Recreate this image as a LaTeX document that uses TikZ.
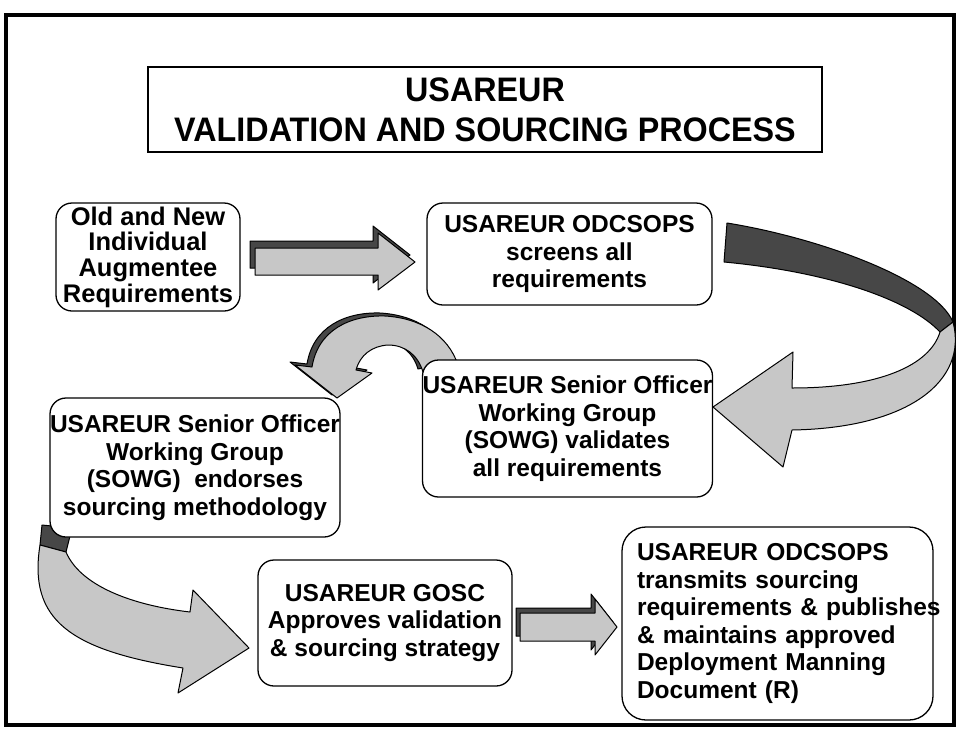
\documentclass[tikz,border=0pt]{standalone}
\usepackage{fontspec}
\setmainfont{Liberation Sans}
\newfontfamily\headingfont[FakeStretch=0.95]{Liberation Sans}
\begin{document}
\begin{tikzpicture}[x=1pt,y=-1pt,
  stage/.style={draw=black, line width=1.3pt, rounded corners=16pt, fill=white,
    align=center, inner sep=0pt, font=\fontsize{24.5}{27.5}\selectfont\bfseries},
  heading/.style={draw=black, line width=1.4pt, fill=white, align=center,
    inner sep=0pt, font=\headingfont\fontsize{34}{40}\selectfont\bfseries},
  ribbon/.style={draw=black, line width=1pt, fill=black!22, line join=round},
  ribbonback/.style={draw=black, line width=1pt, fill=black!72, line join=round}]

\useasboundingbox (0,0) rectangle (960,736);
\fill[white] (0,0) rectangle (960,736);

% outer frame
\draw[line width=4pt] (6,15) rectangle (954,725);

% title
\node[heading, minimum width=674pt, minimum height=85pt] (title) at (485,109.5)
  {USAREUR\\VALIDATION AND SOURCING PROCESS};

% straight arrow: requirements -> screening
\begin{scope}[shift={(-5,-7)}]
  \path[ribbonback] (255,248) -- (378,248) -- (378,233) -- (415,262) -- (378,290) -- (378,275) -- (255,275) -- cycle;
\end{scope}
\path[ribbon] (255,248) -- (378,248) -- (378,233) -- (415,262) -- (378,290) -- (378,275) -- (255,275) -- cycle;

% straight arrow: approval -> publication
\begin{scope}[shift={(-4,-5)}]
  \path[ribbonback] (520,613) -- (595,613) -- (595,599) -- (617,627) -- (595,655) -- (595,641) -- (520,641) -- cycle;
\end{scope}
\path[ribbon] (520,613) -- (595,613) -- (595,599) -- (617,627) -- (595,655) -- (595,641) -- (520,641) -- cycle;

% large ribbon arrow: screening -> validation
\path[ribbonback] (727,223) .. controls (820,238) and (935,280) .. (953,322)
  -- (940,332) .. controls (910,300) and (830,272) .. (724,262) -- cycle;
\path[ribbon] (953,322) .. controls (968,380) and (910,428) .. (792,430)
  -- (783,467) -- (713,407) -- (793,352) -- (792,388)
  .. controls (880,388) and (930,365) .. (940,332) -- cycle;

% arched arrow: validation -> endorsement
\begin{scope}[shift={(-5,-3)}]
  \path[ribbonback] (312,367) .. controls (318,330) and (350,315) .. (385,316)
    .. controls (420,318) and (448,335) .. (458,365) -- (423,372)
    .. controls (418,355) and (405,345) .. (388,345)
    .. controls (372,346) and (360,355) .. (356,370)
    -- (372,373) -- (337,398) -- (295,365) -- cycle;
\end{scope}
\path[ribbon] (312,367) .. controls (318,330) and (350,315) .. (385,316)
  .. controls (420,318) and (448,335) .. (458,365) -- (423,372)
  .. controls (418,355) and (405,345) .. (388,345)
  .. controls (372,346) and (360,355) .. (356,370)
  -- (372,373) -- (337,398) -- (295,365) -- cycle;

% sweeping arrow: endorsement -> approval
\path[ribbonback] (42,525) -- (72,528) -- (66,552) -- (40,545) -- cycle;
\path[ribbon] (40,545) .. controls (28,620) and (70,650) .. (183,668)
  -- (178,693) -- (249,648) -- (193,590) -- (190,612)
  .. controls (130,605) and (80,585) .. (66,552) -- cycle;

% process stages
\node[stage, font=\fontsize{25.5}{25.7}\selectfont\bfseries,
  minimum width=184pt, minimum height=108pt] (req) at (148,257)
  {Old and New\\Individual\\Augmentee\\Requirements};
\node[stage, minimum width=285pt, minimum height=102pt] (screen) at (569.5,254)
  {USAREUR ODCSOPS\\screens all\\requirements};
\node[stage, minimum width=289pt, minimum height=137pt] (validate) at (567.5,428.5)
  {USAREUR Senior Officer\\Working Group\\(SOWG) validates\\all requirements};
\node[stage, minimum width=286pt, minimum height=139pt] (endorse) at (195,467.5)
  {USAREUR Senior Officer\\Working Group\\(SOWG)\ \ endorses\\sourcing methodology};
\node[stage, minimum width=254pt, minimum height=126pt] (approve) at (385,623)
  {USAREUR GOSC\\Approves validation\\\&\ sourcing strategy};
\node[stage, rounded corners=24pt, align=left, text width=281pt, inner xsep=15pt,
  minimum height=193pt] (publish) at (777.5,623.5)
  {\mbox{USAREUR ODCSOPS}\\\mbox{transmits sourcing}\\\mbox{requirements \& publishes}\\
   \mbox{\& maintains approved}\\\mbox{Deployment Manning}\\\mbox{Document (R)}};
\end{tikzpicture}
\end{document}
